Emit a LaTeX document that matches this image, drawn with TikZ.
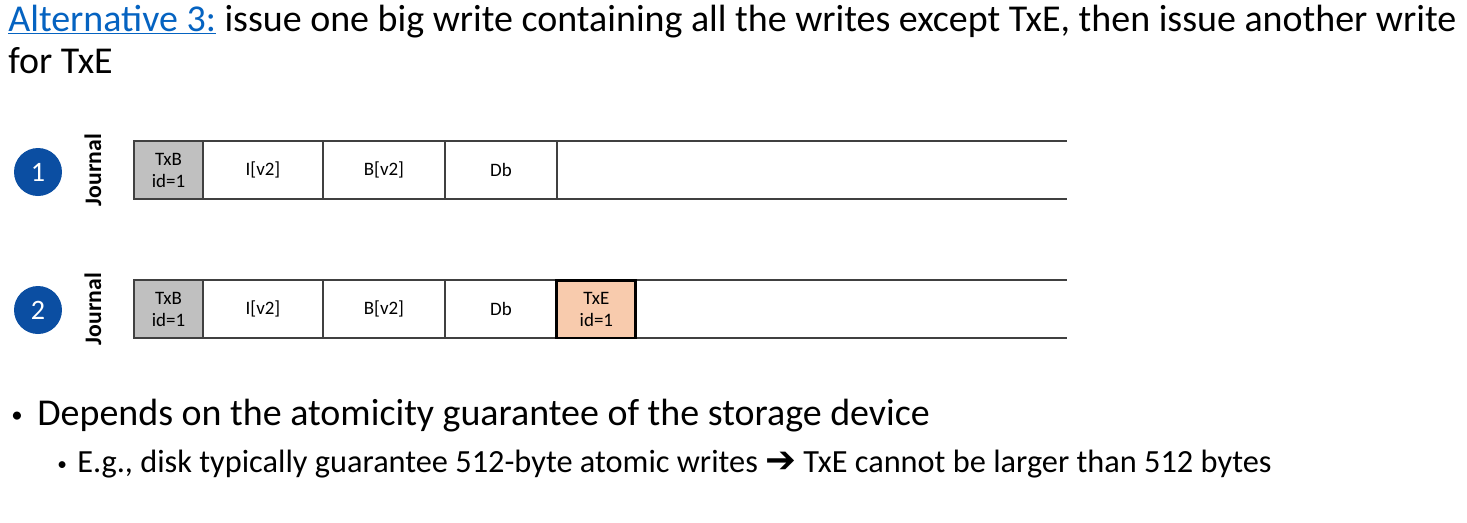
\documentclass[tikz,border=0pt]{standalone}
\usepackage{fontspec}
\setmainfont{Carlito}
\newfontfamily\symfont{DejaVu Sans}
\usetikzlibrary{positioning}
\definecolor{linkblue}{HTML}{0563C1}
\definecolor{stepblue}{HTML}{0B4EA2}
\definecolor{cellgray}{HTML}{C0C0C0}
\definecolor{txepeach}{HTML}{F8CBAD}
\definecolor{edgegray}{HTML}{404040}

\begin{document}
\begin{tikzpicture}[x=0.02cm, y=-0.02cm, node distance=0pt,
    cell/.style={draw=edgegray, line width=0.75pt, fill=#1, minimum height=1.16cm, inner sep=0pt, outer sep=0pt, align=center, font=\fontsize{10.8}{12.5}\selectfont},
    cell/.default=white,
    stepdot/.style={circle, fill=stepblue, minimum size=0.96cm, inner sep=0pt, text=white, font=\fontsize{16}{18}\selectfont},
    journal/.style={rotate=90, font=\bfseries\fontsize{13.5}{15}\selectfont},
    tail/.style={draw=edgegray, line width=0.75pt},
    line/.style={anchor=base west, inner sep=0pt, font=\fontsize{#1}{#1}\selectfont},
]
\useasboundingbox (0,0) rectangle (1467,522);

% title
\node[line=21.6] (title1) at (8,31) {\textcolor{linkblue}{\underline{Alternative 3:}} issue one big write containing all the writes except TxE, then issue another write};
\node[line=21.6] (title2) at (8,73) {for TxE};

% step 1
\node[stepdot] (step1) at (38,172) {1};
\node[journal] (journal1) at (93,170) {Journal};
\node[cell=cellgray, minimum width=1.38cm, anchor=north west] (txb1) at (134,141) {TxB\\id=1};
\node[cell, minimum width=2.4cm, right=of txb1] (inode1) {I[v2]};
\node[cell, minimum width=2.44cm, right=of inode1] (bitmap1) {B[v2]};
\node[cell, minimum width=2.24cm, right=of bitmap1] (data1) {Db};
\coordinate (end1) at (1067,141);
\draw[tail] (data1.north east) -- (end1) (data1.south east) -- (end1 |- data1.south);

% step 2
\node[stepdot] (step2) at (38,310) {2};
\node[journal] (journal2) at (93,309) {Journal};
\node[cell=cellgray, minimum width=1.38cm, anchor=north west] (txb2) at (134,280) {TxB\\id=1};
\node[cell, minimum width=2.4cm, right=of txb2] (inode2) {I[v2]};
\node[cell, minimum width=2.44cm, right=of inode2] (bitmap2) {B[v2]};
\node[cell, minimum width=2.24cm, right=of bitmap2] (data2) {Db};
\coordinate (end2) at (1067,280);
\draw[tail] (data2.north east) -- (end2) (data2.south east) -- (end2 |- data2.south);
\node[cell=txepeach, draw=black, line width=1.7pt, minimum width=1.58cm, right=of data2] (txe2) {TxE\\id=1};

% bullets
\node[line=13] (dot1) at (11,422) {•};
\node[line=21.6] (text1) at (37,425) {Depends on the atomicity guarantee of the storage device};
\node[line=11] (dot2) at (57,470) {•};
\node[line=18.4] (text2) at (77,472) {E.g., disk typically guarantee 512-byte atomic writes {\symfont\bfseries\fontsize{21}{21}\selectfont ➔} TxE cannot be larger than 512 bytes};
\end{tikzpicture}
\end{document}
